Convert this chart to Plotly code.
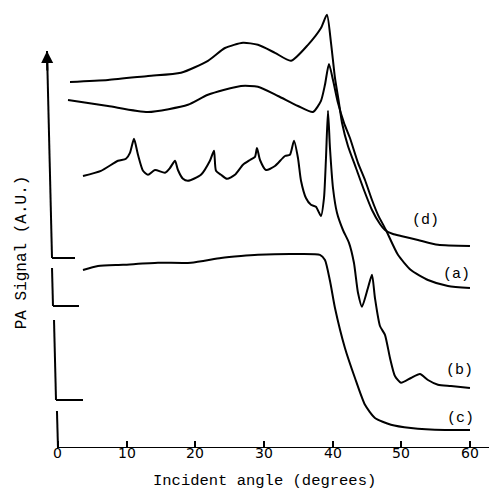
import plotly.graph_objects as go

# ---- data (incident angle in degrees, PA signal in arbitrary units) ----
d_x = [1.75, 7.28, 13.11, 17.91, 21.84, 24.32, 26.94, 29.12, 31.60, 33.93, 36.41, 38.30, 39.17, 39.76,
       40.34, 40.92, 41.36, 42.23, 43.40, 44.56, 45.73, 46.89, 47.62, 48.78, 49.95, 52.42, 55.34, 60.00]
d_y = [9.15, 9.20, 9.30, 9.38, 9.68, 10.00, 10.13, 10.08, 9.88, 9.68, 10.08, 10.50, 10.83, 10.13,
       9.25, 8.63, 8.13, 7.55, 7.00, 6.45, 5.95, 5.60, 5.45, 5.35, 5.30, 5.20, 5.08, 5.05]

a_x = [1.46, 7.28, 13.11, 18.93, 21.84, 26.65, 29.12, 32.04, 34.95, 37.13, 38.30, 38.88, 39.46, 40.05,
       40.77, 41.65, 42.52, 43.69, 44.71, 45.73, 46.60, 47.76, 49.51, 51.40, 53.88, 56.79, 60.00]
a_y = [8.70, 8.55, 8.40, 8.58, 8.83, 9.05, 9.03, 8.80, 8.55, 8.40, 8.68, 9.08, 9.60, 9.20,
       8.63, 8.13, 7.75, 7.13, 6.70, 6.20, 5.83, 5.45, 4.83, 4.45, 4.20, 4.05, 4.00]

b_x = [3.64, 6.26, 8.74, 9.90, 10.48, 11.07, 11.65, 12.38, 13.11, 14.13,
       15.58, 16.31, 17.04, 17.47, 18.20, 18.93, 20.82, 22.13, 22.72, 23.01,
       23.74, 24.61, 25.77, 26.94, 27.96, 28.69, 28.98, 29.42, 30.29, 31.60,
       33.06, 33.78, 34.37, 34.95, 35.39, 36.11, 36.84, 37.57, 38.30, 38.74,
       39.03, 39.32, 39.61, 40.05, 40.63, 41.50, 42.38, 43.10, 43.69, 44.27,
       45.14, 45.73, 46.16, 46.89, 47.62, 48.35, 49.07, 49.95, 51.40, 52.72,
       53.88, 55.34, 57.23, 60.00]
b_y = [6.80, 6.93, 7.18, 7.23, 7.38, 7.73, 7.33, 6.93, 6.83, 6.95,
       6.88, 7.00, 7.18, 6.95, 6.73, 6.68, 6.83, 7.18, 7.43, 6.93,
       6.83, 6.73, 6.83, 7.08, 7.20, 7.28, 7.50, 7.20, 6.95, 7.05,
       7.30, 7.33, 7.68, 7.25, 6.68, 6.25, 6.08, 6.03, 5.80, 6.25,
       7.25, 8.43, 7.50, 6.50, 5.88, 5.45, 5.13, 4.63, 3.88, 3.53,
       4.00, 4.33, 3.75, 3.05, 2.83, 2.25, 1.80, 1.63, 1.75, 1.85,
       1.70, 1.58, 1.55, 1.50]

c_x = [3.64, 5.83, 9.47, 14.56, 19.37, 23.74, 26.65, 29.12, 33.93, 38.15, 38.88, 39.61, 40.34,
       41.79, 43.25, 44.71, 46.16, 48.49, 51.40, 56.36, 60.00]
c_y = [4.45, 4.55, 4.58, 4.63, 4.63, 4.75, 4.80, 4.83, 4.85, 4.83, 4.70, 4.18, 3.50,
       2.50, 1.75, 1.08, 0.75, 0.58, 0.50, 0.45, 0.45]

curve_labels = ["(d)", "(a)", "(b)", "(c)"]
label_x = [53.59, 58.10, 58.54, 58.69]
label_y = [5.70, 4.33, 1.95, 0.73]

x_ticks = [0, 10, 20, 30, 40, 50, 60]
x_title = "Incident angle (degrees)"
y_title = "PA Signal (A.U.)"

# broken y-axis pieces: (top x, top y, bottom x, bottom y, baseline end x)
axis_pieces = [
    (-1.60, 9.925, -0.87, 4.75, 2.48),
    (-0.87, 4.50, -0.73, 3.55, 3.06),
    (-0.58, 3.20, -0.29, 1.20, 3.64),
    (-0.15, 0.925, 0.00, 0.00, 64.3),
]

MONO = "Liberation Mono, Courier New, monospace"
SANS = "DejaVu Sans, sans-serif"

fig = go.Figure()
for xs, ys in [(d_x, d_y), (a_x, a_y), (b_x, b_y), (c_x, c_y)]:
    fig.add_trace(go.Scatter(x=xs, y=ys, mode="lines",
                             line=dict(color="black", width=2, shape="spline", smoothing=0.6),
                             hoverinfo="skip", showlegend=False))

shapes = []
for tx, ty, bx, by, ex in axis_pieces:
    shapes.append(dict(type="line", xref="x", yref="y", x0=tx, y0=ty, x1=bx, y1=by,
                       line=dict(color="black", width=2)))
    shapes.append(dict(type="line", xref="x", yref="y", x0=bx, y0=by, x1=ex, y1=by,
                       line=dict(color="black", width=2)))

annotations = []
for t, lx, ly in zip(curve_labels, label_x, label_y):
    annotations.append(dict(x=lx, y=ly, xref="x", yref="y", text=t, showarrow=False,
                            font=dict(family=MONO, size=15, color="black")))
for v in x_ticks:
    annotations.append(dict(x=v, y=-0.011, xref="x", yref="paper", text=str(v), showarrow=False,
                            yanchor="middle", font=dict(family=SANS, size=14, color="black")))
# arrow heads on the axes
annotations.append(dict(x=-1.60, y=9.925, ax=-1.55, ay=9.4, xref="x", yref="y",
                        axref="x", ayref="y", text="", showarrow=True,
                        arrowhead=2, arrowsize=1.2, arrowwidth=2, arrowcolor="black"))
annotations.append(dict(x=64.9, y=0.0, ax=63.5, ay=0.0, xref="x", yref="y",
                        axref="x", ayref="y", text="", showarrow=True,
                        arrowhead=2, arrowsize=1.2, arrowwidth=2, arrowcolor="black"))
annotations.append(dict(x=30.14, y=-0.074, xref="x", yref="paper", text=x_title,
                        showarrow=False, yanchor="middle",
                        font=dict(family=MONO, size=15.5, color="black")))
annotations.append(dict(x=-5.2, y=4.9, xref="x", yref="y", text=y_title,
                        showarrow=False, textangle=-90,
                        font=dict(family=MONO, size=16, color="black")))

fig.update_layout(
    width=497, height=490,
    margin=dict(l=0, r=0, t=0, b=50),
    paper_bgcolor="white", plot_bgcolor="white",
    shapes=shapes, annotations=annotations,
    xaxis=dict(range=[-7.28, 65.10], showgrid=False, zeroline=False, showline=False,
               tickvals=x_ticks, showticklabels=False,
               ticks="inside", ticklen=7, tickwidth=2, tickcolor="black"),
    yaxis=dict(range=[0, 11], visible=False),
)

fig.write_html("out.html", config={"displayModeBar": False})
